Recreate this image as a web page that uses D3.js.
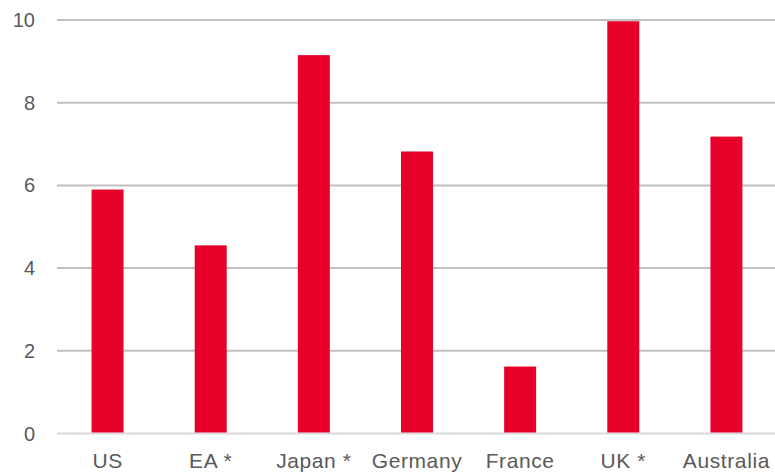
<!DOCTYPE html>
<html><head><meta charset="utf-8">
<script src="https://cdn.jsdelivr.net/npm/d3@7"></script>
<style>body{margin:0;background:#fff}svg{display:block}text{font-family:"Liberation Sans",Arial,sans-serif;fill:#595959}</style>
</head><body><svg id="c" width="775" height="474"></svg>
<script>
const categories = ["US","EA *","Japan *","Germany","France","UK *","Australia"];
const values = [5.9, 4.55, 9.15, 6.82, 1.62, 9.97, 7.18];
const yTicks = [0,2,4,6,8,10];

const svg = d3.select("#c");
const x = d3.scaleBand().domain(categories).range([56,778]).paddingInner(0.69).paddingOuter(0.345);
const y = d3.scaleLinear().domain([0,10]).range([433.5,20]);

svg.append("g").selectAll("line").data(yTicks).join("line")
  .attr("x1",57).attr("x2",775)
  .attr("y1",d=>y(d)).attr("y2",d=>y(d))
  .attr("stroke",d=>d===0?"#d9d9d9":"#c0c0c0").attr("stroke-width",2);

svg.append("g").selectAll("text").data(yTicks).join("text")
  .attr("x",35).attr("y",d=>y(d)+7).attr("text-anchor","end")
  .style("font-size","20px").text(d=>d);

svg.append("g").selectAll("rect").data(values).join("rect")
  .attr("x",(d,i)=>x(categories[i])).attr("width",x.bandwidth())
  .attr("y",d=>y(d)).attr("height",d=>y(0)-y(d)-1)
  .attr("fill","#e6002a");

svg.append("g").selectAll("text").data(categories).join("text")
  .attr("x",d=>x(d)+x.bandwidth()/2).attr("y",468).attr("text-anchor","middle")
  .style("font-size","21px").style("letter-spacing","0.6px").text(d=>d);
</script></body></html>
